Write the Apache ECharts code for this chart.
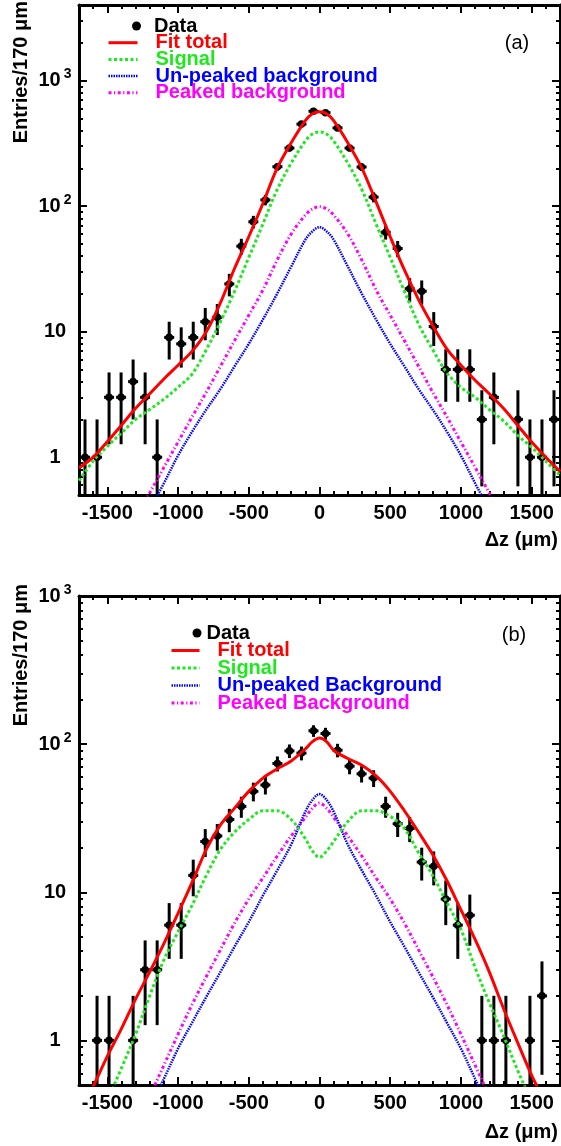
<!DOCTYPE html>
<html>
<head>
<meta charset="utf-8">
<script src="https://cdn.jsdelivr.net/npm/echarts@6/dist/echarts.min.js"></script>
<style>html,body{margin:0;padding:0;background:#fff}#c{width:561px;height:1146px}</style>
</head>
<body>
<div id="c"></div>
<script>
// ---------------- data ----------------
const BIN_CENTERS = [-1657.5,-1572.5,-1487.5,-1402.5,-1317.5,-1232.5,-1147.5,-1062.5,-977.5,-892.5,
  -807.5,-722.5,-637.5,-552.5,-467.5,-382.5,-297.5,-212.5,-127.5,-42.5,
  42.5,127.5,212.5,297.5,382.5,467.5,552.5,637.5,722.5,807.5,
  892.5,977.5,1062.5,1147.5,1232.5,1317.5,1402.5,1487.5,1572.5,1657.5];
// entries per bin (0 = empty bin, not drawn on log scale)
const DATA_A = [1,1,3,3,4,3,1,9,8,9, 12,13,24,48,75,112,206,290,450,570,
  555,420,290,205,118,62,46,22,21,11, 5,5,5,2,3,0,2,1,1,2];
const DATA_B = [0,1,1,0,1,3,3,6,6,13, 22,24,31,38,48,53,74,90,87,123,
  118,91,71,63,59,38,29,27,16,15, 9,6,7,1,1,1,0,1,2,0];

const CURVE_X = [-1700,-1600,-1500,-1400,-1300,-1200,-1100,-1000,-900,-800,-700,-600,-500,-400,-300,-200,-100,-50,
  0,50,100,200,300,400,500,600,700,800,900,1000,1100,1200,1300,1400,1500,1600,1700];

const FIT_A  = [0.82,1.0,1.33,1.8,2.45,3.2,4.2,5.4,7.0,10,17,32,57,105,200,320,480,545,
  565,545,480,320,200,108,57,31,18,11.2,7.3,5.4,4.1,3.2,2.45,1.8,1.32,1.0,0.77];
const SIG_A  = [0.65,0.93,1.22,1.56,2.0,2.4,2.9,3.6,4.6,7.2,12,21,39,72,135,220,330,375,
  390,375,330,220,135,72,39,21,11.5,7.2,4.7,3.6,3.0,2.4,1.95,1.5,1.2,0.93,0.72];
const UNPK_A = [null,null,null,null,0.23,0.38,0.62,1.03,1.6,2.4,3.5,5.3,8.0,12.5,20,33,54,63,
  68,63,54,33,20,12.5,8.0,5.3,3.5,2.4,1.6,1.03,0.62,0.38,0.23,null,null,null,null];
const PK_A   = [null,null,null,null,0.33,0.52,0.83,1.32,2.1,3.3,5.3,8.5,13.5,21.5,37,60,85,95,
  99,95,85,60,37,21.5,13.5,8.5,5.3,3.3,2.1,1.32,0.83,0.52,0.33,null,null,null,null];

const FIT_B  = [0.32,0.49,0.78,1.2,1.9,2.9,4.5,7.2,11.7,19.5,28.5,37,48,59,68,77,93,104,
  110,104,91,80,72,61,48,35.5,25.5,18,12,7.6,4.8,2.9,1.65,0.97,0.58,0.37,0.22];
const SIG_B  = [null,0.23,0.39,0.65,1.1,2.0,3.5,5.4,8.2,13,19.5,25.5,31,35.5,35.5,31,23,19,
  17.2,19,22,30,35.5,35.5,32.5,27,18.5,13,8.5,5.6,3.1,1.8,1.08,0.63,0.38,0.22,null];
const UNPK_B = [null,null,null,null,null,0.35,0.55,0.88,1.32,1.97,2.9,4.3,6.3,9.5,14,21,35,42,
  46,42,35,21,14,9.5,6.3,4.3,2.9,1.97,1.32,0.88,0.55,0.35,null,null,null,null,null];
const PK_B   = [null,null,null,null,0.26,0.42,0.68,1.1,1.75,2.7,4.1,6.2,9.0,12.5,17.5,24,32,37,
  40,37,32,24,17.5,12.5,9.0,6.2,4.1,2.7,1.75,1.1,0.68,0.42,0.26,null,null,null,null];

const X_MIN = -1700, X_MAX = 1700;
const X_MAJOR = [-1500,-1000,-500,0,500,1000,1500];
const X_MINOR = [-1600,-1400,-1300,-1200,-1100,-900,-800,-700,-600,-400,-300,-200,-100,
  100,200,300,400,600,700,800,900,1100,1200,1300,1400,1600];
const Y_MIN = 0.5, Y_MAX_A = 4000, Y_MAX_B = 1000;
const Y_MAJOR = [1,10,100,1000];
const Y_LABELS = {1:'{b|1}', 10:'{b|10}', 100:'{b|10}{s|2}', 1000:'{b|10}{s|3}'};
const Y_MINOR_A = [0.6,0.7,0.8,0.9,2,3,4,5,6,7,8,9,20,30,40,50,60,70,80,90,200,300,400,500,600,700,800,900,2000,3000];
const Y_MINOR_B = [0.6,0.7,0.8,0.9,2,3,4,5,6,7,8,9,20,30,40,50,60,70,80,90,200,300,400,500,600,700,800,900];

const NAMES_A = ['Data','Fit total','Signal','Un-peaked background','Peaked background'];
const NAMES_B = ['Data','Fit total','Signal','Un-peaked Background','Peaked Background'];

// ---------------- styles ----------------
const FONT = "'Liberation Sans', Arial, Helvetica, sans-serif";
const C_RED = '#ff0000', C_GREEN = '#1ee81e', C_BLUE = '#0000ff', C_MAG = '#ff00ff';

const chart = echarts.init(document.getElementById('c'), null, {renderer: 'canvas'});

function xAxes(g) {
  const base = {type: 'value', gridIndex: g, min: X_MIN, max: X_MAX, splitLine: {show: false}, axisLabel: {show: false}};
  const tick = (len, vals) => ({show: true, inside: true, length: len, customValues: vals, lineStyle: {color: '#000', width: 2}});
  const line = {show: true, onZero: false, lineStyle: {color: '#000', width: 3}};
  return [
    Object.assign({}, base, {position: 'bottom', axisLine: line, axisTick: tick(8, X_MAJOR),
      axisLabel: {show: true, customValues: X_MAJOR, margin: 8, color: '#000', fontSize: 20, fontWeight: 'bold', fontFamily: FONT,
        formatter: v => String(v)}}),
    Object.assign({}, base, {position: 'bottom', axisLine: {show: false, onZero: false}, axisTick: tick(4, X_MINOR)}),
    Object.assign({}, base, {position: 'top', axisLine: line, axisTick: tick(8, X_MAJOR)}),
    Object.assign({}, base, {position: 'top', axisLine: {show: false, onZero: false}, axisTick: tick(4, X_MINOR)})
  ];
}
function yAxes(g, ymax, minor) {
  const base = {type: 'log', logBase: 10, gridIndex: g, min: Y_MIN, max: ymax, splitLine: {show: false}, axisLabel: {show: false}};
  const tick = (len, vals) => ({show: true, inside: true, length: len, customValues: vals, lineStyle: {color: '#000', width: 2}});
  const line = {show: true, onZero: false, lineStyle: {color: '#000', width: 3}};
  return [
    Object.assign({}, base, {position: 'left', axisLine: line, axisTick: tick(8, Y_MAJOR),
      axisLabel: {show: true, customValues: Y_MAJOR, align: 'center', margin: 24,
        formatter: v => Y_LABELS[Math.round(v)] || String(v),
        rich: {
          b: {fontSize: 20, fontWeight: 'bold', fontFamily: FONT, color: '#000'},
          s: {fontSize: 14, fontWeight: 'bold', fontFamily: FONT, color: '#000', padding: [0, 0, 12, 3]}
        }}}),
    Object.assign({}, base, {position: 'left', axisLine: {show: false, onZero: false}, axisTick: tick(4, minor)}),
    Object.assign({}, base, {position: 'right', axisLine: line, axisTick: tick(8, Y_MAJOR)}),
    Object.assign({}, base, {position: 'right', axisLine: {show: false, onZero: false}, axisTick: tick(4, minor)})
  ];
}

function dataSeries(name, axisIdx, counts) {
  const pts = [];
  BIN_CENTERS.forEach((x, i) => { if (counts[i] > 0) pts.push([x, counts[i]]); });
  return {
    type: 'custom', name: name, xAxisIndex: axisIdx, yAxisIndex: axisIdx, z: 2,
    itemStyle: {color: '#000'}, clip: true, silent: true,
    data: pts,
    renderItem: function (params, api) {
      const x = api.value(0), n = api.value(1);
      const err = Math.sqrt(n);
      const lo = Math.max(n - err, Y_MIN);
      const c = api.coord([x, n]);
      const pLo = api.coord([x, lo]);
      const pHi = api.coord([x, n + err]);
      return {type: 'group', children: [
        {type: 'line', shape: {x1: c[0], y1: pLo[1], x2: c[0], y2: pHi[1]}, style: {stroke: '#000', lineWidth: 3}},
        {type: 'line', shape: {x1: c[0] - 5, y1: c[1], x2: c[0] + 5, y2: c[1]}, style: {stroke: '#000', lineWidth: 3}},
        {type: 'circle', shape: {cx: c[0], cy: c[1], r: 3.8}, style: {fill: '#000'}}
      ]};
    }
  };
}
function curve(name, axisIdx, vals, color, width, dash) {
  return {
    type: 'line', name: name, xAxisIndex: axisIdx, yAxisIndex: axisIdx, z: 3,
    data: CURVE_X.map((x, i) => [x, vals[i]]),
    showSymbol: false, symbol: 'none', smooth: 0.35, clip: true, silent: true,
    connectNulls: false,
    itemStyle: {color: color},
    lineStyle: {color: color, width: width, type: dash, cap: 'butt'}
  };
}

const DASH_SIG = [3, 2.5], DASH_UNPK = [1.5, 1], DASH_PK = [3, 2.5, 1.2, 2.5];

function legends(names, dataLeft, dataRowY, dataPad, lineLeft, firstLineY, rowH, iconW, textPad) {
  const colors = [C_RED, C_GREEN, C_BLUE, C_MAG];
  return [
    {
      orient: 'vertical', left: dataLeft, top: dataRowY - 10, padding: 0, selectedMode: false,
      itemWidth: 9, itemHeight: 9, itemGap: 0,
      data: [{name: names[0], icon: 'circle'}],
      itemStyle: {color: '#000'},
      textStyle: {fontSize: 20, fontWeight: 'bold', fontFamily: FONT, color: '#000', lineHeight: 20, padding: [0, 0, 0, dataPad]}
    },
    {
      orient: 'vertical', left: lineLeft, top: firstLineY - 10, padding: 0, selectedMode: false,
      itemWidth: iconW, itemHeight: 10, itemGap: rowH - 20,
      data: names.slice(1).map((n, i) => ({name: n, textStyle: {color: colors[i]}})),
      itemStyle: {opacity: 0},
      lineStyle: {width: 'inherit', type: 'inherit'},
      textStyle: {fontSize: 20, fontWeight: 'bold', fontFamily: FONT, lineHeight: 20, padding: [0, 0, 0, textPad]}
    }
  ];
}

function txt(x, y, text, opts) {
  return Object.assign({type: 'text', x: x, y: y, silent: true, z: 10,
    style: Object.assign({text: text, fill: '#000', font: 'bold 20px ' + FONT, textAlign: 'center', textVerticalAlign: 'middle'}, opts || {})});
}

const option = {
  animation: false,
  backgroundColor: '#fff',
  grid: [
    {left: 79, top: 5, width: 481, height: 490},
    {left: 79, top: 596, width: 481, height: 489}
  ],
  xAxis: xAxes(0).concat(xAxes(1)),
  yAxis: yAxes(0, Y_MAX_A, Y_MINOR_A).concat(yAxes(1, Y_MAX_B, Y_MINOR_B)),
  legend: legends(NAMES_A, 132, 26, 8, 107, 42.7, 16.7, 29, 13)
    .concat(legends(NAMES_B, 192.5, 633, 0, 170, 650.5, 17.5, 28, 13)),
  series: [
    dataSeries(NAMES_A[0], 0, DATA_A),
    curve(NAMES_A[4], 0, PK_A, C_MAG, 3, DASH_PK),
    curve(NAMES_A[3], 0, UNPK_A, C_BLUE, 2.5, DASH_UNPK),
    curve(NAMES_A[2], 0, SIG_A, C_GREEN, 3, DASH_SIG),
    curve(NAMES_A[1], 0, FIT_A, C_RED, 3, 'solid'),
    dataSeries(NAMES_B[0], 4, DATA_B),
    curve(NAMES_B[4], 4, PK_B, C_MAG, 3, DASH_PK),
    curve(NAMES_B[3], 4, UNPK_B, C_BLUE, 2.5, DASH_UNPK),
    curve(NAMES_B[2], 4, SIG_B, C_GREEN, 3, DASH_SIG),
    curve(NAMES_B[1], 4, FIT_B, C_RED, 3, 'solid')
  ],
  graphic: [
    txt(21, 1, 'Entries/170 \u03bcm', {textAlign: 'right'}),
    txt(21, 584, 'Entries/170 \u03bcm', {textAlign: 'right'}),
    txt(558, 540, '\u0394z (\u03bcm)', {textAlign: 'right'}),
    txt(558, 1132, '\u0394z (\u03bcm)', {textAlign: 'right'}),
    txt(517, 43, '(a)', {font: '20px ' + FONT}),
    txt(514, 635, '(b)', {font: '20px ' + FONT})
  ]
};
// rotate the y-axis titles
option.graphic[0].rotation = Math.PI / 2;
option.graphic[1].rotation = Math.PI / 2;
chart.setOption(option);
</script>
</body>
</html>
